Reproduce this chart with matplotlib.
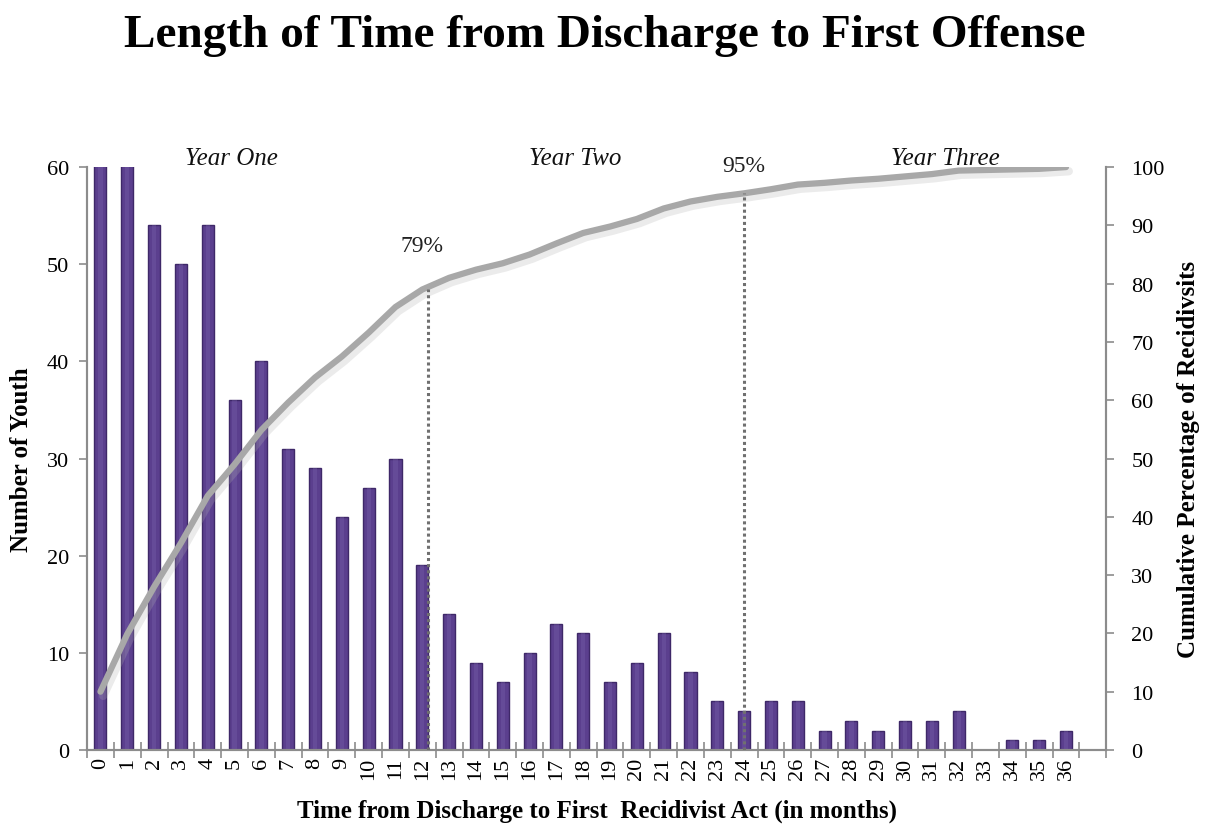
import matplotlib
matplotlib.use("Agg")
import matplotlib.pyplot as plt
import matplotlib.patheffects as pe

plt.rcParams['font.family'] = ['Liberation Serif', 'DejaVu Serif']

# Months since discharge (an extra empty slot follows month 36)
months = list(range(37))
month_labels = [str(m) for m in months]

# Number of youth whose first recidivist act fell in each month
youth_counts = [67, 66, 54, 50, 54, 36, 40, 31, 29, 24, 27, 30, 19,
                14, 9, 7, 10, 13, 12, 7, 9, 12, 8, 5, 4,
                5, 5, 2, 3, 2, 3, 3, 4, 0, 1, 1, 2]

# Cumulative percentage of recidivists
cumulative_pct = [10.0, 19.9, 28.0, 35.5, 43.6, 49.0, 54.9, 59.6, 63.9, 67.5,
                  71.6, 76.0, 79.0, 81.0, 82.4, 83.5, 85.0, 86.9, 88.7, 89.8,
                  91.1, 92.9, 94.1, 94.9, 95.5, 96.2, 97.0, 97.3, 97.7, 98.0,
                  98.4, 98.8, 99.4, 99.5, 99.6, 99.7, 100.0]

# Reference markers
marker_months = [12, 24]
marker_labels = ["79%", "95%"]
marker_label_y = [86.5, 100.2]

year_labels = ["Year One", "Year Two", "Year Three"]
year_label_x = [4.9, 17.7, 31.5]

fig = plt.figure(figsize=(12.09, 8.28), dpi=100)
ax = fig.add_axes([0.072, 0.093, 0.843, 0.704])
ax2 = ax.twinx()

bar_color = "#5b3f8e"
edge_color = "#3e2868"
ax.bar(months, youth_counts, width=0.45, color=bar_color,
       edgecolor=edge_color, linewidth=1.0, zorder=2)
# soft highlight down the middle of each bar
ax.bar(months, youth_counts, width=0.16, color="#7a62ab", alpha=0.35,
       linewidth=0, zorder=3)

ax.set_xlim(-0.5, 37.5)
ax.set_ylim(0, 60)
ax.set_yticks(range(0, 61, 10))
ax.set_xticks(months)
ax.set_xticklabels(month_labels, rotation=90, fontsize=16)
ax.set_xticks([m + 0.5 for m in range(-1, 38)], minor=True)
ax.tick_params(axis='x', which='major', length=0, pad=5)
ax.tick_params(axis='x', which='minor', direction='inout', length=12,
               width=1.2, color="#8c8c8c")
ax.tick_params(axis='y', which='major', direction='out', length=6,
               width=1.2, color="#8c8c8c", labelsize=16, pad=7)

ax2.set_ylim(0, 100)
ax2.set_yticks(range(0, 101, 10))
ax2.tick_params(axis='y', direction='out', length=6, width=1.2,
                color="#8c8c8c", labelsize=16, pad=12)

for a in (ax, ax2):
    a.spines['top'].set_visible(False)
    for s in ('left', 'right', 'bottom'):
        a.spines[s].set_color("#8c8c8c")
        a.spines[s].set_linewidth(1.5)

ax2.plot(months, cumulative_pct, color="#a8a8a8", linewidth=4.5,
         solid_capstyle='round', zorder=4,
         path_effects=[pe.SimpleLineShadow(offset=(2, -3), shadow_color="#b0b0b0",
                                           alpha=0.25, linewidth=6),
                       pe.Normal()])

# Dotted drop lines at the 12 and 24 month marks
for m, lab, ly in zip(marker_months, marker_labels, marker_label_y):
    top = cumulative_pct[m]
    xm = m + 0.2 if m == 12 else m
    ax2.plot([xm, xm], [0, top], color="#707070", linestyle=(0, (1, 1)),
             linewidth=2.2, zorder=5)
    ax2.text(m, ly, lab, ha='center', va='center', fontsize=17,
             color="#222222")

for lab, x in zip(year_labels, year_label_x):
    ax2.text(x, 101.6, lab, ha='center', va='center', fontsize=18,
             style='italic', color="#111111")

ax.set_ylabel("Number of Youth", fontsize=18, fontweight='bold', labelpad=10)
ax2.set_ylabel("Cumulative Percentage of Recidivsits", fontsize=18,
               fontweight='bold', labelpad=9)
ax.set_xlabel("Time from Discharge to First  Recidivist Act (in months)",
              fontsize=18, fontweight='bold', labelpad=14)

fig.text(0.5, 0.957, "Length of Time from Discharge to First Offense",
         fontsize=34, fontweight='bold', ha='center', va='center')

fig.savefig("out.png", dpi=100)
